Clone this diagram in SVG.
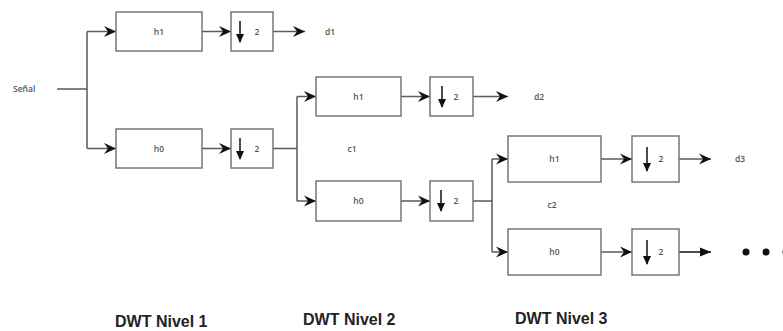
<svg xmlns="http://www.w3.org/2000/svg" width="783" height="331" viewBox="0 0 783 331">
  <style>
    .box { fill: #ffffff; stroke: #777777; stroke-width: 1.5; }
    .wire { fill: none; stroke: #5a5a5a; stroke-width: 1.5; }
    .lbl { font-family: "Open Sans", "Liberation Sans", sans-serif; font-size: 8.5px; font-weight: 600; fill: #555; }
    .title { font-family: "Liberation Sans", Arial, sans-serif; font-size: 16px; font-weight: bold; fill: #222; }
    .down { stroke: #111; stroke-width: 1.5; fill: none; }
  </style>
  <defs>
    <marker id="chev" markerUnits="userSpaceOnUse" markerWidth="13" markerHeight="12" refX="12" refY="6" orient="auto">
      <path d="M0,0.5 L12,6 L0,11.5 L4,6 z" fill="#111"/>
    </marker>
    <marker id="tri" markerUnits="userSpaceOnUse" markerWidth="12" markerHeight="12" refX="11" refY="6" orient="auto">
      <path d="M0,1.5 L11,6 L0,10.5 z" fill="#111"/>
    </marker>
    <marker id="dn" markerUnits="userSpaceOnUse" markerWidth="10" markerHeight="10" refX="8" refY="5" orient="auto">
      <path d="M0,1 L9,5 L0,9 z" fill="#111"/>
    </marker>
  </defs>

  <!-- connectors -->
  <g id="connectors">
    <!-- level 1 input split -->
    <path class="wire" d="M57,89 H87 M87,31.5 V148.5"/>
    <path class="wire" d="M87,31.5 H116" marker-end="url(#chev)"/>
    <path class="wire" d="M87,148.5 H116" marker-end="url(#chev)"/>
    <path class="wire" d="M202,31.5 H231" marker-end="url(#chev)"/>
    <path class="wire" d="M202,148.5 H231" marker-end="url(#chev)"/>
    <path class="wire" d="M273,31.5 H305" marker-end="url(#chev)"/>
    <!-- level 2 split -->
    <path class="wire" d="M273,148.5 H297 M297,96.5 V201"/>
    <path class="wire" d="M297,96.5 H316" marker-end="url(#chev)"/>
    <path class="wire" d="M297,201 H316" marker-end="url(#chev)"/>
    <path class="wire" d="M401,96.5 H430" marker-end="url(#chev)"/>
    <path class="wire" d="M401,201 H430" marker-end="url(#chev)"/>
    <path class="wire" d="M473,96.5 H508" marker-end="url(#chev)"/>
    <!-- level 3 split -->
    <path class="wire" d="M473,201 H492 M492,159 V252"/>
    <path class="wire" d="M492,159 H508" marker-end="url(#chev)"/>
    <path class="wire" d="M492,252 H508" marker-end="url(#chev)"/>
    <path class="wire" d="M601,159 H632" marker-end="url(#chev)"/>
    <path class="wire" d="M601,252 H632" marker-end="url(#chev)"/>
    <path class="wire" d="M679,159 H711" marker-end="url(#chev)"/>
    <path d="M679,252 H711" stroke="#111" stroke-width="1.5" fill="none" marker-end="url(#tri)"/>
  </g>

  <text class="lbl" x="13" y="92">Señal</text>

  <!-- level 1 -->
  <g id="l1-h1"><rect class="box" x="116" y="12" width="86" height="39"/><text class="lbl" x="159" y="34.5" text-anchor="middle">h1</text></g>
  <g id="l1-ds1"><rect class="box" x="231" y="12" width="42" height="39"/><path class="down" d="M240,21 V42" marker-end="url(#dn)"/><text class="lbl" x="257" y="34.5" text-anchor="middle">2</text></g>
  <g id="l1-h0"><rect class="box" x="116" y="129" width="86" height="39"/><text class="lbl" x="159" y="151.5" text-anchor="middle">h0</text></g>
  <g id="l1-ds0"><rect class="box" x="231" y="129" width="42" height="39"/><path class="down" d="M240,138 V159" marker-end="url(#dn)"/><text class="lbl" x="257" y="151.5" text-anchor="middle">2</text></g>
  <text class="lbl" x="330" y="34.5" text-anchor="middle">d1</text>

  <!-- level 2 -->
  <g id="l2-h1"><rect class="box" x="316" y="77" width="85" height="39"/><text class="lbl" x="358.5" y="99.5" text-anchor="middle">h1</text></g>
  <g id="l2-ds1"><rect class="box" x="430" y="77" width="43" height="39"/><path class="down" d="M442,86 V107" marker-end="url(#dn)"/><text class="lbl" x="456" y="99.5" text-anchor="middle">2</text></g>
  <g id="l2-h0"><rect class="box" x="316" y="181" width="85" height="40"/><text class="lbl" x="358.5" y="204" text-anchor="middle">h0</text></g>
  <g id="l2-ds0"><rect class="box" x="430" y="181" width="43" height="40"/><path class="down" d="M441,190 V211" marker-end="url(#dn)"/><text class="lbl" x="456" y="204" text-anchor="middle">2</text></g>
  <text class="lbl" x="539" y="99.5" text-anchor="middle">d2</text>
  <text class="lbl" x="352" y="152" text-anchor="middle">c1</text>

  <!-- level 3 -->
  <g id="l3-h1"><rect class="box" x="508" y="136" width="93" height="46"/><text class="lbl" x="554.5" y="162" text-anchor="middle">h1</text></g>
  <g id="l3-ds1"><rect class="box" x="632" y="136" width="47" height="46"/><path class="down" d="M647,147 V171" marker-end="url(#dn)"/><text class="lbl" x="661" y="162" text-anchor="middle">2</text></g>
  <g id="l3-h0"><rect class="box" x="508" y="229" width="93" height="46"/><text class="lbl" x="554.5" y="255" text-anchor="middle">h0</text></g>
  <g id="l3-ds0"><rect class="box" x="632" y="229" width="47" height="46"/><path class="down" d="M647,240 V264" marker-end="url(#dn)"/><text class="lbl" x="661" y="255" text-anchor="middle">2</text></g>
  <text class="lbl" x="740" y="162" text-anchor="middle">d3</text>
  <text class="lbl" x="552" y="208" text-anchor="middle">c2</text>

  <!-- continuation dots -->
  <circle cx="746" cy="252" r="3.5" fill="#111"/>
  <circle cx="766" cy="252" r="3.5" fill="#111"/>
  <circle cx="786" cy="252" r="3.5" fill="#111"/>

  <!-- level captions -->
  <text class="title" x="115" y="327">DWT Nivel 1</text>
  <text class="title" x="303" y="325">DWT Nivel 2</text>
  <text class="title" x="515" y="324">DWT Nivel 3</text>
</svg>
